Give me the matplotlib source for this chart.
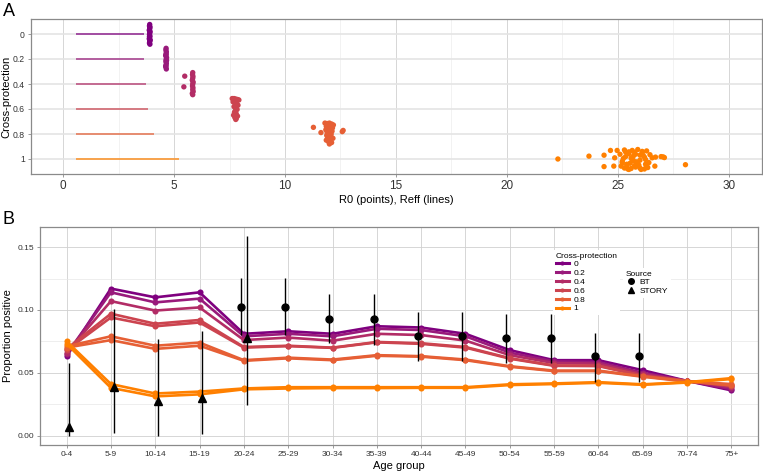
import matplotlib
matplotlib.use("Agg")
import matplotlib.pyplot as plt
from matplotlib.lines import Line2D
import numpy as np

plt.rcParams['font.family'] = ['Liberation Sans', 'DejaVu Sans']

# ---------------- data: panel A ----------------
cp_labels = ["0", "0.2", "0.4", "0.6", "0.8", "1"]
reff_vals = [3.65, 3.65, 3.72, 3.81, 4.08, 5.21]
reff_start = 0.59

r0_cp0 = [3.90, 3.89, 3.91, 3.90, 3.88, 3.92, 3.90, 3.89, 3.91, 3.90, 3.88, 3.92, 3.90, 3.89, 3.91, 3.90, 3.89, 3.91]
jit_cp0 = [-0.40, -0.34, -0.28, -0.22, -0.16, -0.10, -0.04, 0.02, 0.08, 0.14, 0.20, 0.26, 0.32, 0.38, 0.43, -0.31, 0.11, 0.24]
r0_cp02 = [4.64, 4.63, 4.65, 4.64, 4.62, 4.66, 4.64, 4.63, 4.65, 4.64, 4.63, 4.65, 4.64, 4.66, 4.62]
jit_cp02 = [-0.45, -0.38, -0.30, -0.22, -0.14, -0.06, 0.02, 0.10, 0.18, 0.26, 0.34, 0.42, -0.18, 0.06, 0.30]
r0_cp04 = [5.84, 5.83, 5.85, 5.84, 5.82, 5.86, 5.84, 5.83, 5.85, 5.84, 5.86, 5.82, 5.84, 5.48, 5.44]
jit_cp04 = [-0.48, -0.40, -0.32, -0.24, -0.16, -0.08, 0.00, 0.08, 0.16, 0.24, 0.32, 0.40, 0.45, -0.33, 0.12]
r0_cp06 = [7.62, 7.70, 7.78, 7.86, 7.92, 7.66, 7.74, 7.82, 7.88, 7.70, 7.78, 7.84, 7.76, 7.72, 7.80, 7.68, 7.86, 7.74, 7.80, 7.78]
jit_cp06 = [-0.44, -0.44, -0.42, -0.40, -0.38, -0.30, -0.26, -0.22, -0.16, -0.10, -0.04, 0.02, 0.08, 0.14, 0.20, 0.26, 0.30, 0.36, 0.40, 0.44]
r0_cp08 = [11.28, 11.62, 12.62, 12.58, 11.80, 11.90, 12.00, 12.10, 12.18, 11.86, 11.96, 12.06, 12.14, 11.84, 11.94, 12.04, 12.12, 11.90, 12.00, 12.08, 11.88, 11.98, 12.06, 11.92, 12.02, 12.16, 11.86, 11.96, 12.10, 12.00]
jit_cp08 = [-0.28, -0.06, -0.15, -0.10, -0.46, -0.44, -0.46, -0.42, -0.38, -0.32, -0.30, -0.34, -0.26, -0.18, -0.20, -0.16, -0.12, -0.06, -0.04, 0.00, 0.06, 0.10, 0.08, 0.16, 0.20, 0.18, 0.26, 0.32, 0.36, 0.42]
r0_cp1 = [22.30, 23.70, 24.38, 24.38, 24.67, 24.82, 24.97, 24.86, 28.05, 27.04, 26.67,
          25.10, 25.20, 25.30, 25.40, 25.50, 25.60, 25.70, 25.80, 25.90, 26.00, 26.10, 26.20, 26.30, 26.40, 26.55, 26.70, 26.95, 27.10,
          25.15, 25.35, 25.55, 25.75, 25.95, 26.15, 26.35, 25.25, 25.45, 25.65, 25.85, 26.05, 26.25, 26.45,
          25.30, 25.50, 25.70, 25.90, 26.10, 26.30, 25.20, 25.40, 25.60, 25.80, 26.00, 26.20, 25.50, 25.75, 26.00, 26.25, 25.35, 25.65]
jit_cp1 = [0.00, -0.12, -0.16, 0.32, -0.36, 0.30, -0.36, -0.05, 0.24, -0.09, 0.30,
           -0.20, 0.10, -0.38, 0.22, -0.30, 0.40, -0.12, 0.34, -0.40, 0.05, -0.26, 0.42, -0.34, 0.15, -0.05, -0.08, -0.10, -0.06,
           0.30, -0.10, 0.18, -0.28, 0.26, -0.14, 0.36, -0.02, 0.42, -0.36, 0.12, 0.44, 0.02, -0.18,
           0.38, -0.22, 0.06, 0.20, -0.32, 0.28, 0.16, 0.34, -0.04, -0.20, 0.38, -0.08, 0.44, 0.28, -0.16, 0.22, -0.30, 0.08]

# ---------------- data: panel B ----------------
age_groups = ["0-4", "5-9", "10-14", "15-19", "20-24", "25-29", "30-34", "35-39", "40-44",
              "45-49", "50-54", "55-59", "60-64", "65-69", "70-74", "75+"]
prop_cp0 = [0.063, 0.117, 0.110, 0.114, 0.081, 0.083, 0.081, 0.087, 0.086, 0.081, 0.068, 0.060, 0.060, 0.052, 0.0435, 0.036]
prop_cp02 = [0.065, 0.114, 0.106, 0.109, 0.079, 0.081, 0.079, 0.085, 0.084, 0.079, 0.066, 0.059, 0.0585, 0.050, 0.0435, 0.037]
prop_cp04 = [0.066, 0.107, 0.0995, 0.102, 0.076, 0.078, 0.0755, 0.081, 0.080, 0.0756, 0.064, 0.0577, 0.0572, 0.049, 0.0435, 0.0385]
prop_cp06 = [0.069, 0.097, 0.089, 0.092, 0.0705, 0.0715, 0.070, 0.0745, 0.0735, 0.0705, 0.0616, 0.0558, 0.0556, 0.0478, 0.0435, 0.040]
prop_cp06_rep = [0.068, 0.094, 0.087, 0.090, 0.0700, 0.0712, 0.0698, 0.0742, 0.0730, 0.0700, 0.0612, 0.0555, 0.0553, 0.0475, 0.0435, 0.0395]
prop_cp08 = [0.071, 0.079, 0.0715, 0.0740, 0.0600, 0.0620, 0.0605, 0.0640, 0.0632, 0.0605, 0.0552, 0.0517, 0.0517, 0.0472, 0.0432, 0.041]
prop_cp08_rep = [0.070, 0.076, 0.0690, 0.0715, 0.0595, 0.0615, 0.0600, 0.0635, 0.0628, 0.0600, 0.0548, 0.0513, 0.0513, 0.0468, 0.0430, 0.040]
prop_cp1 = [0.075, 0.041, 0.0335, 0.0350, 0.0375, 0.0385, 0.0385, 0.0385, 0.0385, 0.0385, 0.0408, 0.0415, 0.0425, 0.0408, 0.0425, 0.0457]
prop_cp1_rep = [0.073, 0.038, 0.0312, 0.0328, 0.0368, 0.0375, 0.0378, 0.0378, 0.0380, 0.0380, 0.0402, 0.0410, 0.0420, 0.0404, 0.0422, 0.0450]

bt_ages = ["20-24", "25-29", "30-34", "35-39", "40-44", "45-49", "50-54", "55-59", "60-64", "65-69"]
bt_prop = [0.102, 0.102, 0.093, 0.093, 0.079, 0.079, 0.078, 0.078, 0.063, 0.063]
bt_low = [0.080, 0.080, 0.0736, 0.072, 0.059, 0.059, 0.058, 0.058, 0.043, 0.043]
bt_high = [0.1255, 0.1255, 0.1126, 0.1126, 0.0987, 0.0987, 0.0966, 0.0966, 0.0815, 0.0815]
story_ages = ["0-4", "5-9", "10-14", "15-19", "20-24"]
story_prop = [0.0072, 0.0385, 0.0276, 0.030, 0.0775]
story_low = [0.0, 0.0024, 0.0, 0.0014, 0.0244]
story_high = [0.0576, 0.1006, 0.077, 0.0836, 0.159]

colors = ['#7F007F', '#991A7B', '#B22C66', '#CC444F', '#E65F35', '#FF8000']

W, H = 763, 472
fig = plt.figure(figsize=(W / 100, H / 100), dpi=100)

def px_axes(l, r, t, b):
    return fig.add_axes([l / W, 1 - b / H, (r - l) / W, (b - t) / H])

grid_major = '#D0D0D0'
grid_minor = '#E8E8E8'
border = '#8A8A8A'
tick_col = '#333333'

def style(ax):
    for s in ax.spines.values():
        s.set_color(border)
        s.set_linewidth(0.9)
    ax.tick_params(colors='#8A8A8A', length=2.5, width=0.6, labelcolor=tick_col, pad=2)
    ax.set_axisbelow(True)

# ---------------- Panel A ----------------
axA = px_axes(31, 762, 19, 174)
style(axA)
ypos = np.arange(len(cp_labels))
for i, (rv, c) in enumerate(zip(reff_vals, colors)):
    axA.plot([reff_start, rv], [i, i], color=c, lw=1.1, alpha=0.85, solid_capstyle='butt', zorder=3)
pts = [(r0_cp0, jit_cp0), (r0_cp02, jit_cp02), (r0_cp04, jit_cp04),
       (r0_cp06, jit_cp06), (r0_cp08, jit_cp08), (r0_cp1, jit_cp1)]
for i, ((xs, js), c) in enumerate(zip(pts, colors)):
    axA.scatter(xs, np.array(js) * 0.95 + i, s=15, color=c, edgecolors='none', zorder=4)
axA.set_xlim(-1.45, 31.5)
axA.set_ylim(5.6, -0.6)
axA.set_yticks(ypos)
axA.set_yticklabels(cp_labels, fontsize=6.2)
axA.set_xticks([0, 5, 10, 15, 20, 25, 30])
axA.set_xticks([2.5, 7.5, 12.5, 17.5, 22.5, 27.5], minor=True)
axA.tick_params(axis='x', labelsize=8.5)
axA.tick_params(which='minor', length=0)
axA.grid(True, which='major', axis='x', color=grid_major, lw=0.6)
axA.grid(True, which='minor', axis='x', color=grid_minor, lw=0.4)
axA.grid(True, which='major', axis='y', color='#E4E4E4', lw=1.2)
axA.set_xlabel("R0 (points), Reff (lines)", fontsize=8, labelpad=2)
axA.set_ylabel("Cross-protection", fontsize=8)
axA.yaxis.set_label_coords((11 - 31) / 731, 0.5)
fig.text(3 / W, 1 - 11 / H, "A", fontsize=13, va='center', ha='left')

# ---------------- Panel B ----------------
axB = px_axes(40, 758, 227, 445)
style(axB)
xi = np.arange(len(age_groups))
series = [(prop_cp0, None), (prop_cp02, None), (prop_cp04, None),
          (prop_cp06, prop_cp06_rep), (prop_cp08, prop_cp08_rep), (prop_cp1, prop_cp1_rep)]
for (main, rep), c in zip(series, colors):
    for s in ([main] if rep is None else [rep, main]):
        axB.plot(xi, s, color=c, lw=1.9, marker='o', ms=4.4, mec='none', zorder=3)

idx = {a: k for k, a in enumerate(age_groups)}
bx = np.array([idx[a] for a in bt_ages]) - 0.075
sx = np.array([idx[a] for a in story_ages]) + 0.06
axB.vlines(bx, bt_low, bt_high, color='black', lw=1.0, zorder=5)
axB.plot(bx, bt_prop, 'o', color='black', ms=5, ls='none', zorder=6)
axB.vlines(sx, story_low, story_high, color='black', lw=1.0, zorder=5)
axB.plot(sx, story_prop, '^', color='black', ms=5.5, ls='none', zorder=6)

axB.set_xlim(-0.6, 15.6)
axB.set_ylim(-0.0075, 0.166)
axB.set_xticks(xi)
axB.set_xticklabels(age_groups, fontsize=6)
axB.set_yticks([0.0, 0.05, 0.10, 0.15])
axB.set_yticklabels(["0.00", "0.05", "0.10", "0.15"], fontsize=6)
axB.set_yticks([0.025, 0.075, 0.125], minor=True)
axB.tick_params(which='minor', length=0)
axB.grid(True, which='major', color=grid_major, lw=0.6)
axB.grid(True, which='minor', axis='y', color=grid_minor, lw=0.5)
axB.set_xlabel("Age group", fontsize=8, labelpad=2)
axB.set_ylabel("Proportion positive", fontsize=8)
axB.yaxis.set_label_coords((13 - 40) / 718, 0.5)
fig.text(3 / W, 1 - 220 / H, "B", fontsize=13, va='center', ha='left')

h1 = [Line2D([0], [0], color=c, lw=2.2, marker='o', ms=3, mec='none') for c in colors]
leg1 = axB.legend(h1, cp_labels, title="Cross-protection", fontsize=6, title_fontsize=6,
                  loc='upper left', bbox_to_anchor=((553 - 40) / 718, (445 - 250) / 218),
                  frameon=True, framealpha=1, edgecolor='none', fancybox=False,
                  handlelength=1.6, handletextpad=0.6, labelspacing=0.12,
                  borderpad=0.3, borderaxespad=0)
leg1._legend_box.align = "left"
axB.add_artist(leg1)
h2 = [Line2D([0], [0], color='black', marker='o', ms=4, ls='none'),
      Line2D([0], [0], color='black', marker='^', ms=4.5, ls='none')]
leg2 = axB.legend(h2, ["BT", "STORY"], title="Source", fontsize=6, title_fontsize=6,
                  loc='upper left', bbox_to_anchor=((623 - 40) / 718, (445 - 268) / 218),
                  frameon=True, framealpha=1, edgecolor='none', fancybox=False,
                  handlelength=1.2, handletextpad=0.5, labelspacing=0.12,
                  borderpad=0.3, borderaxespad=0)
leg2._legend_box.align = "left"

fig.savefig("out.png", dpi=100)
